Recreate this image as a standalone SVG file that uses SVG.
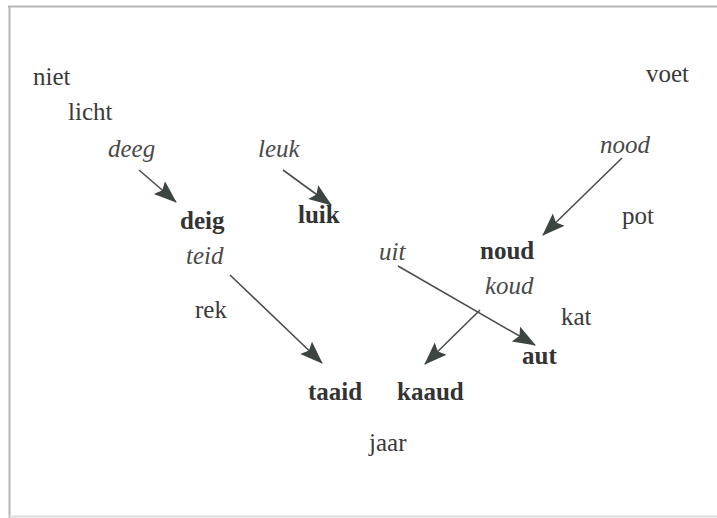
<svg xmlns="http://www.w3.org/2000/svg" width="717" height="518" viewBox="0 0 717 518">
<style>
text{font-family:"Liberation Serif","Times New Roman",serif;font-size:25px;fill:#3a3a3a}
.i{font-style:italic;fill:#4a4a4a}
.b{font-weight:bold;fill:#333}
.c line{stroke:#4a4f4c;stroke-width:1.6}
.frame{stroke:#b5b5b5;stroke-width:2;fill:none}
</style>
<defs>
<marker id="ah" markerUnits="userSpaceOnUse" markerWidth="24" markerHeight="18" refX="22" refY="8.5" orient="auto">
<path d="M0,0 L23,8.5 L0,17 L4,8.5 z" fill="#3d4541"/>
</marker>
</defs>
<rect width="717" height="518" fill="#ffffff"/>
<g id="frame">
<line class="frame" x1="8" y1="6.5" x2="717" y2="6.5"/>
<line class="frame" x1="9.5" y1="6" x2="9.5" y2="518"/>
<line x1="9" y1="516.5" x2="717" y2="516.5" stroke="#dcdcdc" stroke-width="2"/>
</g>
<g class="c" id="connectors">
<line x1="139" y1="170" x2="176" y2="202" marker-end="url(#ah)"/>
<line x1="283" y1="170" x2="331" y2="205" marker-end="url(#ah)"/>
<line x1="622" y1="158" x2="543" y2="235" marker-end="url(#ah)"/>
<line x1="230" y1="275" x2="322" y2="363" marker-end="url(#ah)"/>
<line x1="398" y1="266" x2="535" y2="345" marker-end="url(#ah)"/>
<line x1="480" y1="310" x2="425" y2="364" marker-end="url(#ah)"/>
</g>
<g id="niet"><text x="33" y="85">niet</text></g>
<g id="licht"><text x="68" y="120">licht</text></g>
<g id="deeg"><text class="i" x="108" y="157">deeg</text></g>
<g id="leuk"><text class="i" x="258" y="157">leuk</text></g>
<g id="deig"><text class="b" x="180" y="229">deig</text></g>
<g id="luik"><text class="b" x="298" y="223">luik</text></g>
<g id="teid"><text class="i" x="186" y="264">teid</text></g>
<g id="rek"><text x="195" y="318">rek</text></g>
<g id="voet"><text x="646" y="82">voet</text></g>
<g id="nood"><text class="i" x="600" y="153">nood</text></g>
<g id="pot"><text x="622" y="224">pot</text></g>
<g id="uit"><text class="i" x="379" y="260">uit</text></g>
<g id="noud"><text class="b" x="480" y="259">noud</text></g>
<g id="koud"><text class="i" x="485" y="294">koud</text></g>
<g id="kat"><text x="561" y="325">kat</text></g>
<g id="aut"><text class="b" x="522" y="364">aut</text></g>
<g id="taaid"><text class="b" x="308" y="400">taaid</text></g>
<g id="kaaud"><text class="b" x="397" y="400">kaaud</text></g>
<g id="jaar"><text x="369" y="451">jaar</text></g>
</svg>
